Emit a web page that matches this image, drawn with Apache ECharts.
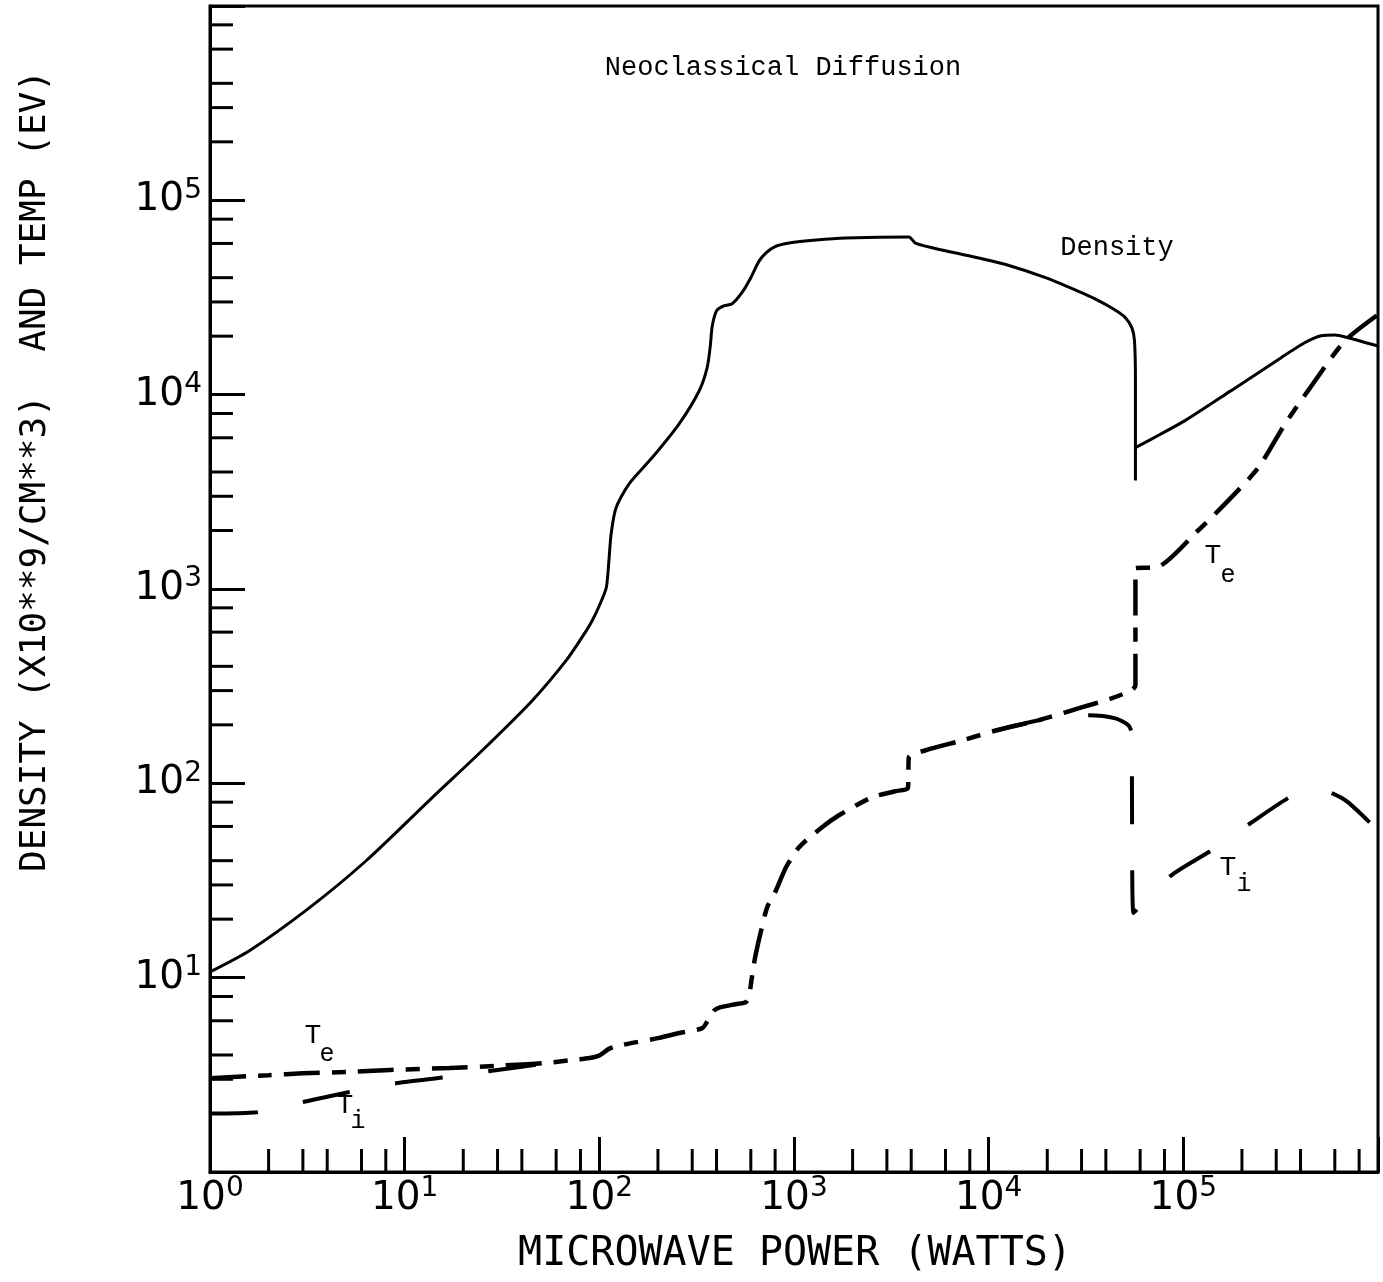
<!DOCTYPE html>
<html>
<head>
<meta charset="utf-8">
<script src="https://cdn.jsdelivr.net/npm/echarts@6/dist/echarts.min.js"></script>
<style>
  html, body { margin: 0; padding: 0; background: #fff; }
  #chart { width: 1383px; height: 1282px; }
</style>
</head>
<body>
<div id="chart"></div>
<script>
// microwave power (W) vs density (1e9/cm^3) / temperature (eV)
const densityLow = [
  [1, 10.7], [1.6, 13.8], [3.26, 23], [6.38, 40.2], [13.9, 84.7], [25.1, 148],
  [45.3, 267], [67.6, 429], [82, 570], [92, 689], [101, 840], [108.6, 1018],
  [112, 1400], [115, 1928], [122, 2624], [142.5, 3486], [187, 4745], [257, 7080],
  [326, 10480], [358, 13770], [372, 18000], [380, 22500], [400, 27000], [430, 28500],
  [481, 29400], [540, 33500], [600, 40000], [660, 48500], [718, 53700], [800, 57800],
  [942, 60300], [1300, 62500], [1849, 64000], [3890, 64800], [4225, 60000], [6000, 55000],
  [8890, 50500], [12000, 47000], [19600, 40000], [28000, 34500], [35400, 31000],
  [44000, 27500], [50400, 24900], [54500, 22000], [56100, 19000], [56750, 12000],
  [56750, 3612]
];
const densityHigh = [
  [56750, 5340], [75000, 6200], [102000, 7350], [176000, 10490],
  [318000, 15500], [420000, 18500], [510000, 20100], [600000, 20300], [702000, 19640],
  [1000000, 17800]
];

// Te below the point where Ti joins it
const electronLow = [
  [1, 3.04], [2, 3.15], [3, 3.22], [5, 3.27], [8.4, 3.35], [17, 3.43], [30, 3.52], [51, 3.63]
];
// Te and Ti lie on top of each other here
const tempShared = [
  [70, 3.75], [89, 3.86], [100, 3.98], [112, 4.3], [130, 4.5], [203, 4.9], [258, 5.19],
  [338, 5.5], [360, 6.0], [390, 6.8], [420, 7.05], [500, 7.3], [567, 7.5], [590, 8.3],
  [602, 9.4], [620, 11.5], [638, 13.4], [678, 17.5], [728, 23], [809, 28.2], [910, 37],
  [1062, 46.9], [1393, 59.4], [1702, 68.5], [2512, 84.7], [3300, 91], [3850, 95],
  [3890, 136], [4750, 148], [7275, 166], [10860, 187]
];
const electronHigh = [
  [18000, 211], [24800, 232], [30000, 246], [42000, 272], [54100, 301], [56750, 320],
  [56750, 1280], [72000, 1290], [119000, 2000], [170000, 2850], [243000, 4215],
  [334000, 7100], [475000, 11800], [677000, 18950], [1000000, 25800]
];
const ionLow = [
  [1, 2.0], [1.74, 2.03], [3.0, 2.29], [5.2, 2.58], [9.2, 2.87], [16.4, 3.08], [30, 3.35], [51, 3.6]
];
const ionHigh = [
  [10860, 187], [18000, 211], [24800, 222], [32600, 224], [44800, 216], [52200, 199],
  [54100, 183], [55400, 21.5], [85700, 33.3], [142500, 45.8], [221000, 62.3],
  [358000, 85.7], [450000, 92], [560000, 90], [700000, 80], [1000000, 57]
];

// minor ticks only at 2,3,4,6,8 of each decade
const minorTicks = [
  2, 3, 4, 6, 8, 20, 30, 40, 60, 80, 200, 300, 400, 600, 800,
  2000, 3000, 4000, 6000, 8000, 20000, 30000, 40000, 60000, 80000,
  200000, 300000, 400000, 600000, 800000
];
const xLabelExps = [0, 1, 2, 3, 4, 5];
const yLabelExps = [1, 2, 3, 4, 5];

const electron = [...electronLow, ...tempShared, ...electronHigh];
const ionLowAll = [...ionLow, ...tempShared.slice(0, 1)];

const labelRich = {
  b: { fontSize: 39, lineHeight: 48, fontFamily: 'DejaVu Sans', color: '#000' },
  s: { fontSize: 28, lineHeight: 30, fontFamily: 'DejaVu Sans', color: '#000', verticalAlign: 'top' }
};
const powerLabel = (exps) => (v) => {
  const e = Math.round(Math.log10(v));
  return exps.includes(e) ? '{b|10}{s|' + e + '}' : '';
};

const tickLine = { color: '#000', width: 3 };

const minorX = (params, api) => {
  const p = api.coord([api.value(0), 1]);
  return {
    type: 'line',
    shape: { x1: p[0], y1: p[1], x2: p[0], y2: p[1] - 23 },
    style: { stroke: '#000', lineWidth: 3 }
  };
};
const minorY = (params, api) => {
  const p = api.coord([1, api.value(1)]);
  return {
    type: 'line',
    shape: { x1: p[0], y1: p[1], x2: p[0] + 23, y2: p[1] },
    style: { stroke: '#000', lineWidth: 3 }
  };
};

const mono = '"Liberation Mono", "DejaVu Sans Mono", monospace';
const plotter = '"DejaVu Sans Mono", monospace';
const txt = (text, x, y, size, font, extra) => Object.assign({
  type: 'text', x: x, y: y, silent: true,
  style: { text: text, font: size + 'px ' + font, fill: '#000', align: 'center', verticalAlign: 'middle' }
}, extra || {});

const curve = (name, data, width, dash) => ({
  name: name, type: 'line', data: data, showSymbol: false, silent: true, smooth: 0.25,
  lineStyle: { color: '#000', width: width, type: dash || 'solid' }
});

const chart = echarts.init(document.getElementById('chart'));
chart.setOption({
  animation: false,
  backgroundColor: '#fff',
  grid: {
    left: 210, right: 5, top: 6, bottom: 110,
    show: true, borderColor: '#000', borderWidth: 3
  },
  xAxis: {
    type: 'log', logBase: 10, min: 1, max: 1e6,
    axisLine: { lineStyle: tickLine },
    axisTick: { inside: true, length: 35, lineStyle: tickLine },
    axisLabel: { margin: 3, formatter: powerLabel(xLabelExps), rich: labelRich },
    splitLine: { show: false }
  },
  yAxis: {
    type: 'log', logBase: 10, min: 1, max: 1e6,
    axisLine: { lineStyle: tickLine },
    axisTick: { inside: true, length: 35, lineStyle: tickLine },
    axisLabel: { margin: 8, formatter: powerLabel(yLabelExps), rich: labelRich },
    splitLine: { show: false }
  },
  graphic: [
    txt('Neoclassical Diffusion', 783, 68, 27, mono),
    txt('Density', 1117, 248, 27, mono),
    txt('T', 313, 1036, 28, mono), txt('e', 327, 1054, 25, mono),
    txt('T', 345, 1106, 28, mono), txt('i', 358, 1121, 25, mono),
    txt('T', 1213, 556, 28, mono), txt('e', 1228, 575, 25, mono),
    txt('T', 1228, 868, 28, mono), txt('i', 1244, 884, 25, mono),
    txt('MICROWAVE POWER (WATTS)', 795, 1255, 40, plotter),
    txt('DENSITY (X10**9/CM**3)  AND TEMP (EV)', 36, 471, 36, plotter, { rotation: Math.PI / 2 })
  ],
  series: [
    curve('Density', densityLow, 3),
    curve('Density', densityHigh, 3),
    curve('Te', electron, 4.5, [36, 12, 14, 12]),
    curve('Ti', ionLowAll, 4, [48, 46]),
    curve('Ti', ionHigh, 4, [48, 46]),
    {
      type: 'custom', renderItem: minorX, silent: true, clip: false,
      data: minorTicks.map((v) => [v, 1])
    },
    {
      type: 'custom', renderItem: minorY, silent: true, clip: false,
      data: minorTicks.map((v) => [1, v])
    }
  ]
});
</script>
</body>
</html>
